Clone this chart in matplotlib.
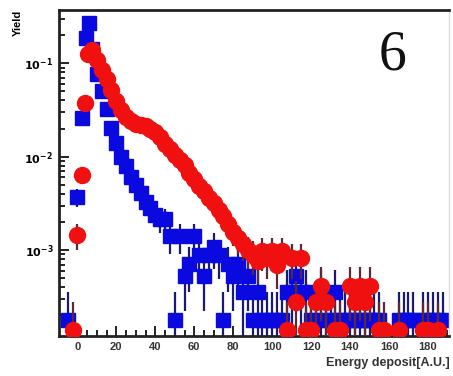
import numpy as np
import matplotlib
matplotlib.use("Agg")
import matplotlib.pyplot as plt
from matplotlib.ticker import MultipleLocator, LogLocator, NullFormatter

# blue squares
blue_x = [-5, 0, 2.5, 4.5, 6, 7.5, 10, 12.5, 15, 17.5, 20, 22.5, 25, 27.5, 30, 32.5,
          35, 37.5, 40, 42.5, 45, 47.5, 50, 52.5, 55, 57.5, 60, 62.5, 65, 67.5, 70,
          72.5, 75, 77.5, 80, 82.5, 85, 87.5, 90, 92.5, 95, 97.5, 100, 102.5, 105,
          107.5, 110, 112.5, 115, 117.5, 120, 122.5, 125, 127.5, 130, 132.5, 135,
          137.5, 140, 142.5, 145, 147.5, 150, 152.5, 155, 165, 167.5, 170, 172.5,
          177.5, 180, 182.5, 185, 187.5]
blue_y = [1.78e-4, 3.7e-3, 2.57e-2, 0.186, 0.269, 0.141, 0.0776, 0.0501, 0.0324, 0.0204,
          0.0141, 0.0100, 0.00794, 0.00603, 0.00501, 0.00407, 0.00331, 0.00282, 0.00240,
          0.00214, 0.00214, 0.00142, 1.78e-4, 0.00142, 5.34e-4, 7.12e-4, 0.00142, 8.9e-4,
          5.34e-4, 8.9e-4, 0.00107, 8.9e-4, 1.78e-4, 7.12e-4, 5.34e-4, 7.12e-4, 3.56e-4,
          5.34e-4, 1.78e-4, 3.56e-4, 1.78e-4, 1.78e-4, 1.78e-4, 1.78e-4, 1.78e-4,
          3.56e-4, 3.56e-4, 5.34e-4, 3.56e-4, 3.56e-4, 1.78e-4, 1.78e-4, 3.56e-4,
          1.78e-4, 1.78e-4, 3.56e-4, 1.78e-4, 1.78e-4, 1.78e-4, 1.78e-4, 1.78e-4,
          1.78e-4, 1.78e-4, 1.78e-4, 1.78e-4, 1.78e-4, 1.78e-4, 1.78e-4, 1.78e-4,
          1.78e-4, 1.78e-4, 1.78e-4, 1.78e-4, 1.78e-4]
blue_unit = 1.78e-4

# red circles
red_x = [-2.5, 0, 2.5, 4, 5.5, 7.5, 10, 12.5, 15, 17.5, 20, 22.5, 25, 27.5, 30, 32.5,
         35, 37.5, 40, 42.5, 45, 47.5, 50, 52.5, 55, 57.5, 60, 62.5, 65, 67.5, 70, 72.5,
         75, 77.5, 80, 82.5, 85, 87.5, 90, 92.5, 95, 97.5, 100, 102.5, 105, 107.5, 110,
         112.5, 115, 117.5, 120, 122.5, 125, 127.5, 132.5, 135, 140, 142.5, 145, 147.5,
         150, 155, 157.5, 165, 177.5, 180, 185]
red_y = [1.38e-4, 1.45e-3, 6.3e-3, 0.0372, 0.126, 0.138, 0.107, 0.0851, 0.0676, 0.0513,
         0.0398, 0.0316, 0.0269, 0.0240, 0.0224, 0.0219, 0.0214, 0.0200, 0.0182, 0.0162,
         0.0138, 0.0120, 0.0105, 0.00912, 0.00813, 0.00676, 0.00575, 0.00490, 0.00427,
         0.00363, 0.00316, 0.00269, 0.00229, 0.00191, 0.00158, 0.00135, 0.00117, 0.00100,
         8.9e-4, 7.6e-4, 9.7e-4, 8.3e-4, 9.7e-4, 6.9e-4, 9.7e-4, 1.38e-4, 8.3e-4, 2.76e-4,
         8.3e-4, 1.38e-4, 1.38e-4, 2.76e-4, 4.14e-4, 2.76e-4, 1.38e-4, 1.38e-4, 4.14e-4,
         2.76e-4, 4.14e-4, 2.76e-4, 4.14e-4, 1.38e-4, 1.38e-4, 1.38e-4, 1.38e-4, 1.38e-4,
         1.38e-4]
red_unit = 1.38e-4


def poisson_err(y, unit):
    y = np.asarray(y)
    err = y / np.sqrt(y / unit)
    lo = np.minimum(err, y * 0.98)
    return [lo, err]


plt.rcParams['font.family'] = ['Liberation Sans', 'DejaVu Sans']

fig = plt.figure(figsize=(4.53, 3.76), dpi=100)
ax = fig.add_axes([0.130, 0.106, 0.862, 0.867])

ax.errorbar(blue_x, blue_y, yerr=poisson_err(blue_y, blue_unit), fmt='s', color='#0a0ae0',
            ecolor='#1a1a70', elinewidth=1.6, markersize=10.5, capsize=0, zorder=2)
ax.errorbar(red_x, red_y, yerr=poisson_err(red_y, red_unit), fmt='o', color='#f01010',
            ecolor='#5a2a3a', elinewidth=1.6, markersize=11.5, capsize=0, zorder=3)

ax.set_yscale('log')
ax.set_ylim(1.2e-4, 0.37)
ax.set_xlim(-9.5, 191)

ax.xaxis.set_major_locator(MultipleLocator(20))
ax.xaxis.set_minor_locator(MultipleLocator(5))
ax.yaxis.set_major_locator(LogLocator(base=10, numticks=10))
ax.yaxis.set_minor_locator(LogLocator(base=10, subs=np.arange(2, 10), numticks=10))
ax.yaxis.set_minor_formatter(NullFormatter())
ax.set_yticks([1e-3, 1e-2, 1e-1])
ax.set_yticklabels([r'$\mathbf{10^{-3}}$', r'$\mathbf{10^{-2}}$', r'$\mathbf{10^{-1}}$'])

ax.tick_params(which='both', direction='in', top=False, right=False, width=1.4, color='#222222')
ax.tick_params(which='major', length=7, labelsize=8, pad=4)
ax.tick_params(which='minor', length=4)
for lab in ax.get_xticklabels():
    lab.set_fontweight('bold')
    lab.set_color('#333333')

for s in ['left', 'top', 'bottom']:
    ax.spines[s].set_linewidth(2)
    ax.spines[s].set_color('#222222')
ax.spines['right'].set_color('#dddddd')
ax.spines['right'].set_linewidth(1)

ax.set_xlabel('Energy deposit[A.U.]', fontsize=9, fontweight='bold', color='#333333',
              loc='right', labelpad=4)
ax.set_ylabel('Yield', fontsize=8, fontweight='bold', loc='top', labelpad=1)

ax.text(0.855, 0.862, '6', transform=ax.transAxes, fontsize=40,
        family='Liberation Serif', ha='center', va='center', color='#111111')

fig.savefig('out.png', dpi=100)
